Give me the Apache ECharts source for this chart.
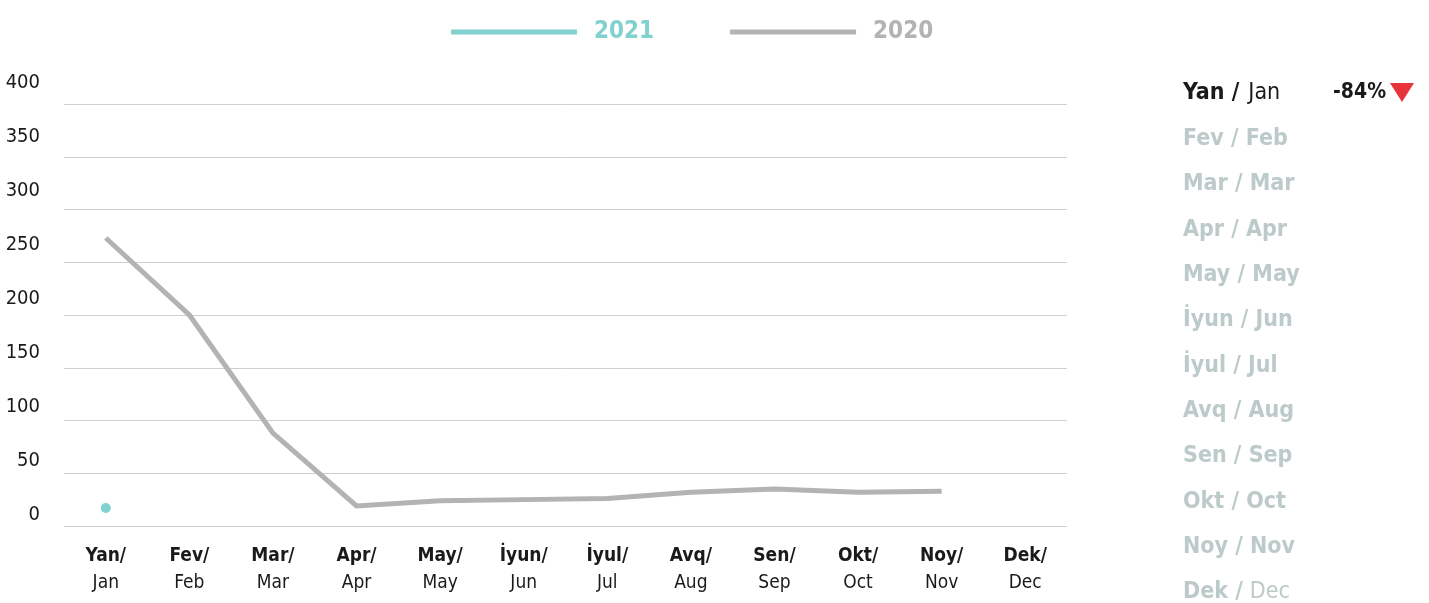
<!DOCTYPE html>
<html>
<head>
<meta charset="utf-8">
<script src="https://cdn.jsdelivr.net/npm/echarts@6/dist/echarts.min.js"></script>
<style>
  html, body { margin: 0; padding: 0; background: #fff; }
  #chart { width: 1429px; height: 603px; }
</style>
</head>
<body>
<div id="chart"></div>
<script>
// month names, azerbaijani / english
const monthsAz = ['Yan', 'Fev', 'Mar', 'Apr', 'May', 'İyun', 'İyul', 'Avq', 'Sen', 'Okt', 'Noy', 'Dek'];
const monthsEn = ['Jan', 'Feb', 'Mar', 'Apr', 'May', 'Jun', 'Jul', 'Aug', 'Sep', 'Oct', 'Nov', 'Dec'];
const values2021 = [17];
const values2020 = [273, 200, 88, 19, 24, 25, 26, 32, 35, 32, 33];
const yTicks = [0, 50, 100, 150, 200, 250, 300, 350, 400];
const changeLabel = '-84%';

const FONT = '"DejaVu Sans Condensed", "Liberation Sans Narrow", sans-serif';
const TEAL = '#80d1cf';
const GREY = '#b3b3b3';
const PALE = '#bccaca';

const chart = echarts.init(document.getElementById('chart'));

// right side month list
const sideItems = [];
monthsAz.forEach((m, i) => {
  let txt, rich;
  if (i === 0) {
    txt = '{b|' + m + ' /}{n|' + monthsEn[i] + '}';
    rich = {
      b: { fontFamily: FONT, fontWeight: 'bold', fontSize: 23, fill: '#1a1a1a' },
      n: { fontFamily: FONT, fontSize: 23, fill: '#1a1a1a', padding: [0, 0, 0, 9] }
    };
  } else if (i === monthsAz.length - 1) {
    txt = '{b|' + m + ' /}{n|' + monthsEn[i] + '}';
    rich = {
      b: { fontFamily: FONT, fontWeight: 'bold', fontSize: 23, fill: PALE },
      n: { fontFamily: FONT, fontSize: 23, fill: PALE, padding: [0, 0, 0, 7] }
    };
  } else {
    txt = '{b|' + m + ' / ' + monthsEn[i] + '}';
    rich = {
      b: { fontFamily: FONT, fontWeight: 'bold', fontSize: 23, fill: PALE }
    };
  }
  sideItems.push({
    type: 'text',
    left: 1183,
    top: 94 + i * 45.35 - 12,
    style: { text: txt, rich: rich }
  });
});
sideItems.push({
  type: 'text',
  left: 1333,
  top: 82,
  style: { text: changeLabel, fontFamily: FONT, fontWeight: 'bold', fontSize: 21, fill: '#1a1a1a' }
});
sideItems.push({
  type: 'polygon',
  shape: { points: [[1390, 83], [1414, 83], [1402, 102]] },
  style: { fill: '#e8323c' }
});

chart.setOption({
  animation: false,
  legend: {
    left: 446,
    top: 15,
    itemWidth: 126,
    itemHeight: 5,
    itemGap: 76,
    icon: 'rect',
    data: [
      { name: '2021', textStyle: { color: TEAL } },
      { name: '2020', textStyle: { color: GREY } }
    ],
    textStyle: {
      fontFamily: FONT, fontWeight: 'bold', fontSize: 24,
      padding: [0, 0, 0, 12]
    }
  },
  grid: [
    { left: 64, right: 362, top: 104, bottom: 77 },
    { left: 64, right: 362, top: 83, bottom: 88 }
  ],
  xAxis: [
    {
      type: 'category',
      gridIndex: 0,
      data: monthsAz,
      axisLine: { show: false },
      axisTick: { show: false },
      axisLabel: {
        interval: 0,
        margin: 17,
        formatter: (v, i) => '{b|' + v + '/}\n{n|' + monthsEn[i] + '}',
        rich: {
          b: { fontFamily: FONT, fontWeight: 'bold', fontSize: 19, color: '#1a1a1a', lineHeight: 27 },
          n: { fontFamily: FONT, fontSize: 19, color: '#1a1a1a', lineHeight: 27 }
        }
      }
    },
    { type: 'category', gridIndex: 1, data: monthsAz, show: false }
  ],
  yAxis: [
    {
      type: 'value',
      gridIndex: 0,
      min: yTicks[0],
      max: yTicks[yTicks.length - 1],
      interval: 50,
      axisLine: { show: false },
      axisTick: { show: false },
      axisLabel: { show: false },
      splitLine: { lineStyle: { color: '#cfcfcf', width: 1 } }
    },
    {
      // label-only axis, labels sit a bit above the gridlines in the original
      type: 'value',
      gridIndex: 1,
      min: yTicks[0],
      max: yTicks[yTicks.length - 1],
      interval: 50,
      axisLine: { show: false },
      axisTick: { show: false },
      splitLine: { show: false },
      axisLabel: { margin: 24, fontFamily: FONT, fontSize: 20, color: '#1a1a1a' }
    }
  ],
  series: [
    {
      name: '2021',
      type: 'line',
      data: values2021,
      symbol: 'circle',
      symbolSize: 10,
      showSymbol: true,
      itemStyle: { color: TEAL },
      lineStyle: { color: TEAL, width: 5 }
    },
    {
      name: '2020',
      type: 'line',
      data: values2020,
      showSymbol: false,
      symbol: 'none',
      itemStyle: { color: GREY },
      lineStyle: { color: GREY, width: 5, join: 'miter' }
    }
  ],
  graphic: sideItems
});
</script>
</body>
</html>
